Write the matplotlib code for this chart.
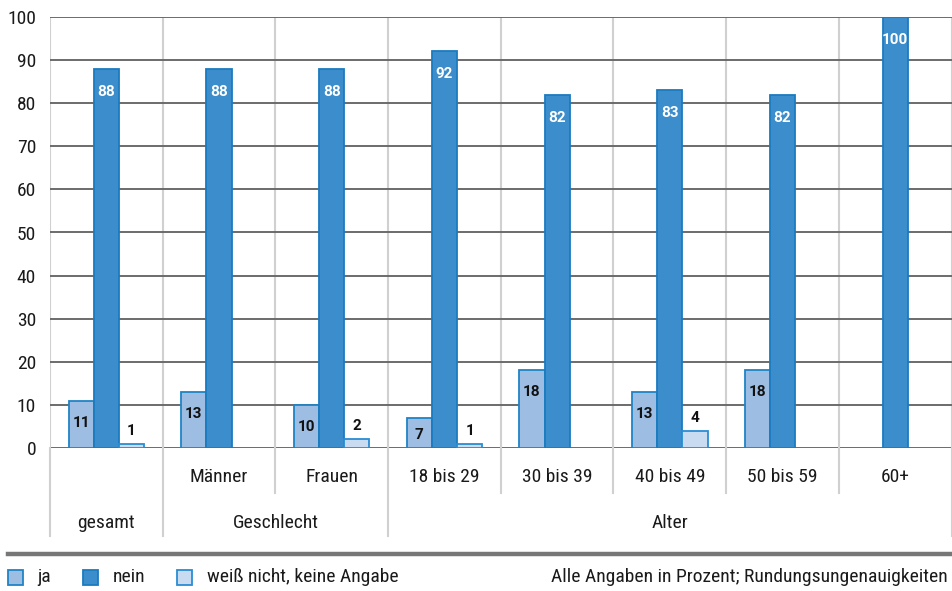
import matplotlib
matplotlib.use("Agg")
import matplotlib.pyplot as plt
from matplotlib import font_manager
from matplotlib.patches import Rectangle
from matplotlib.lines import Line2D
import numpy as np

# --- data -------------------------------------------------------------
categories = ["", "Männer", "Frauen", "18 bis 29", "30 bis 39",
              "40 bis 49", "50 bis 59", "60+"]
groups = [("gesamt", 0, 0), ("Geschlecht", 1, 2), ("Alter", 3, 7)]
ja = [11, 13, 10, 7, 18, 13, 18, 0]
nein = [88, 88, 88, 92, 82, 83, 82, 100]
weiss = [1, 0, 2, 1, 0, 4, 0, 0]
series_names = ["ja", "nein", "weiß nicht, keine Angabe"]
yticks = list(range(0, 101, 10))
note = "Alle Angaben in Prozent; Rundungsungenauigkeiten"

# --- style ------------------------------------------------------------
installed = {f.name for f in font_manager.fontManager.ttflist}
fs = 13
family = "Roboto"
for cand, size in [("Liberation Sans Narrow", 14), ("Roboto Condensed", 14)]:
    if cand in installed:
        family, fs = cand, size
        break
plt.rcParams["font.family"] = [family, "DejaVu Sans"]
label_family = ["Roboto", "DejaVu Sans"]

fills = ["#9dbde3", "#3b8dcb", "#c9dbf1"]
edges = ["#1f84c6", "#1b7bc0", "#2a8dd3"]
text_col = "#1a1a1a"

W, H, DPI = 952, 591, 100
fig = plt.figure(figsize=(W / DPI, H / DPI), dpi=DPI)
x_left, x_right = 50, 951.5
y_top, y_bot = 17, 448
ax = fig.add_axes([x_left / W, 1 - y_bot / H, (x_right - x_left) / W, (y_bot - y_top) / H])

n = len(categories)
x = np.arange(n)
bw = 0.2235
ax.set_xlim(-0.5, n - 0.5)
ax.set_ylim(0, 100)

series = [ja, nein, weiss]
offsets = [-bw, 0, bw]
px_per_unit = (y_bot - y_top) / 100.0
pt = 72.0 / DPI  # points per pixel

for vals, off, fc, ec in zip(series, offsets, fills, edges):
    for xi, v in zip(x, vals):
        if v > 0:
            ax.bar(xi + off, v, width=bw, color=fc, edgecolor=ec,
                   linewidth=1.3, zorder=3)

# value labels
lab_fs = 11
lab_kw = dict(ha="center", va="center", fontsize=lab_fs, fontweight="bold",
              family=label_family, textcoords="offset points", zorder=5)
for xi, v in zip(x, ja):
    if v > 0:
        d = min(22, v * px_per_unit / 2 + 2)
        ax.annotate(str(v), (xi - bw, v), xytext=(0, -d * pt), color="#111111", **lab_kw)
for xi, v in zip(x, nein):
    if v > 0:
        ax.annotate(str(v), (xi, v), xytext=(0, -23 * pt), color="white", **lab_kw)
for xi, v in zip(x, weiss):
    if v > 0:
        ax.annotate(str(v), (xi + bw, v), xytext=(0, 13 * pt), color="#111111", **lab_kw)

# grid
for yv in yticks:
    ax.axhline(yv, color="#6b6b6b", linewidth=1.4, zorder=2)
for b in np.arange(n + 1) - 0.5:
    ax.axvline(b, color="#d0d0d0", linewidth=1.5, zorder=1)

for s in ax.spines.values():
    s.set_visible(False)

ax.set_yticks(yticks)
ax.set_yticklabels([str(t) for t in yticks], fontsize=fs, color=text_col)
ax.tick_params(axis="y", length=0, pad=10)
ax.set_xticks([])

# category axis below the plot
trans = ax.get_xaxis_transform()
ax_h = y_bot - y_top
short_y = -(493 - y_bot) / ax_h
long_y = -(536 - y_bot) / ax_h
cat_y = -(477 - y_bot) / ax_h
grp_y = -(523 - y_bot) / ax_h

group_edges = set()
for _, a, b in groups:
    group_edges.add(a - 0.5)
    group_edges.add(b + 0.5)
for b in np.arange(n + 1) - 0.5:
    yb = long_y if b in group_edges else short_y
    ax.add_line(Line2D([b, b], [0, yb], transform=trans, color="#d0d0d0",
                       linewidth=1.5, clip_on=False))

for xi, c in zip(x, categories):
    if c:
        ax.text(xi, cat_y, c, transform=trans, ha="center", va="center",
                fontsize=fs, color=text_col)
for name, a, b in groups:
    ax.text((a + b) / 2, grp_y, name, transform=trans, ha="center", va="center",
            fontsize=fs, color=text_col)

# separator rule and legend row
fig.add_artist(Line2D([8 / W, 1.0], [1 - 554 / H, 1 - 554 / H], color="#777777",
                      linewidth=3.2, transform=fig.transFigure))

leg_y = 577
sq = 15
for (sx, tx), name, fc, ec in zip([(8, 37), (83, 113), (177, 207)], series_names, fills, edges):
    fig.add_artist(Rectangle((sx / W, 1 - (leg_y + sq / 2) / H), sq / W, sq / H,
                             facecolor=fc, edgecolor=ec, linewidth=1.3,
                             transform=fig.transFigure))
    fig.text(tx / W, 1 - leg_y / H, name, ha="left", va="center", fontsize=fs,
             color=text_col)

fig.text(948 / W, 1 - leg_y / H, note, ha="right", va="center", fontsize=fs,
         color=text_col)

fig.savefig("out.png", dpi=DPI)
